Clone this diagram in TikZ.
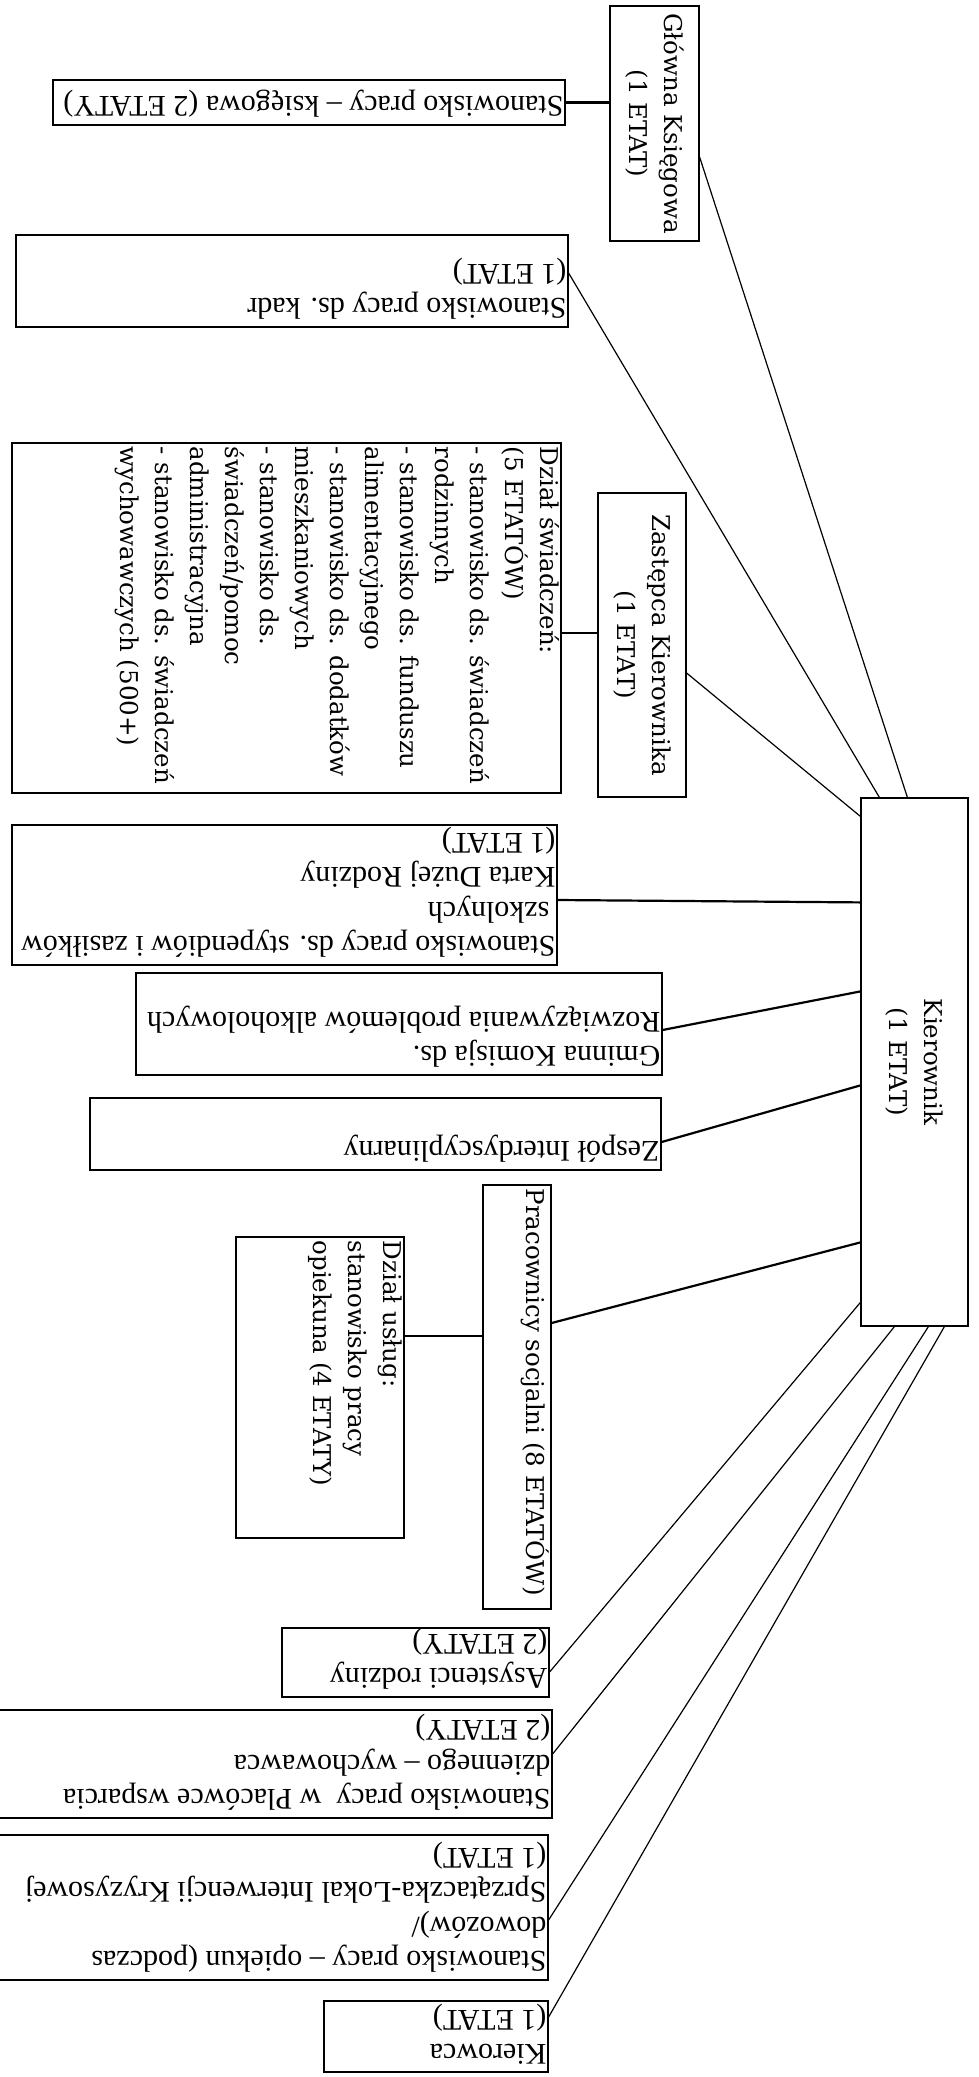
\documentclass[tikz,border=0pt]{standalone}
\usepackage{fontspec}
\setmainfont{Liberation Serif}
\newfontfamily\wideserif{DejaVu Serif}
\tikzstyle{box}=[draw, rectangle, line width=1.2pt, inner sep=0pt]
\tikzstyle{fliptext}=[rotate=180, anchor=north west, align=left, inner xsep=2pt, inner ysep=8pt, font=\fontsize{30}{34.5}\selectfont]
\tikzstyle{downtext}=[rotate=-90, align=left, inner xsep=4pt, inner ysep=2pt, font=\wideserif\fontsize{24.5}{35}\selectfont]
\tikzstyle{link}=[line width=1.2pt]
\tikzstyle{thicklink}=[line width=2.2pt]

\begin{document}
\begin{tikzpicture}[x=1pt,y=-1pt]
            \useasboundingbox (0,0) rectangle (978,2077);
            \fill[white] (0,0) rectangle (978,2077);

            % boxes
            \node[box, minimum width=89pt, minimum height=235pt] (gk) at (654.5,123.5) {};
            \node[box, minimum width=512pt, minimum height=45pt] (sk) at (309,102.5) {};
            \node[box, minimum width=552pt, minimum height=92pt] (kd) at (292,281) {};
            \node[box, minimum width=549pt, minimum height=350pt] (ds) at (286.5,618) {};
            \node[box, minimum width=88pt, minimum height=304pt] (zk) at (642,645) {};
            \node[box, minimum width=107pt, minimum height=528pt] (kr) at (914.5,1062) {};
            \node[box, minimum width=545pt, minimum height=140pt] (st) at (284.5,895) {};
            \node[box, minimum width=526pt, minimum height=102pt] (komisja) at (399,1024) {};
            \node[box, minimum width=571pt, minimum height=72pt] (zi) at (375.5,1134) {};
            \node[box, minimum width=68pt, minimum height=424pt] (ps) at (517,1397) {};
            \node[box, minimum width=168pt, minimum height=301pt] (du) at (320,1387.5) {};
            \node[box, minimum width=267pt, minimum height=69pt] (ar) at (415.5,1662.5) {};
            \node[box, minimum width=555pt, minimum height=108pt] (pw) at (274.5,1764) {};
            \node[box, minimum width=551pt, minimum height=145pt] (sp) at (272.5,1907.5) {};
            \node[box, minimum width=224pt, minimum height=71pt] (kw) at (436,2036.5) {};

            % texts
            \node[downtext, align=center] (gk-t) at (gk) {Główna Księgowa\\(1 ETAT)};
            \node[downtext, align=center] (zk-t) at (zk) {Zastępca Kierownika\\(1 ETAT)};
            \node[downtext, align=center] (kr-t) at (kr) {Kierownik\\(1 ETAT)};
            \node[downtext, anchor=north west] (ds-t) at (ds.north east) {Dział świadczeń:\\(5 ETATÓW)\\- stanowisko ds. świadczeń\\rodzinnych\\- stanowisko ds. funduszu\\alimentacyjnego\\- stanowisko ds. dodatków\\mieszkaniowych\\- stanowisko ds.\\świadczeń/pomoc\\administracyjna\\- stanowisko ds. świadczeń\\wychowawczych (500+)};
            \node[downtext, anchor=north west] (ps-t) at (ps.north east) {Pracownicy socjalni (8 ETATÓW)};
            \node[downtext, anchor=north west] (du-t) at (du.north east) {Dział usług:\\stanowisko pracy\\opiekuna (4 ETATY)};

            \node[fliptext] (sk-t) at (sk.south east) {Stanowisko pracy – księgowa (2 ETATY)};
            \node[fliptext] (kd-t) at (kd.south east) {Stanowisko pracy ds. kadr\\(1 ETAT)};
            \node[fliptext] (st-t) at (st.south east) {Stanowisko pracy ds. stypendiów i zasiłków\\\hspace*{6pt}szkolnych\\Karta Dużej Rodziny\\(1 ETAT)};
            \node[fliptext] (komisja-t) at (komisja.south east) {Gminna Komisja ds.\\Rozwiązywania problemów alkoholowych};
            \node[fliptext] (zi-t) at (zi.south east) {Zespół Interdyscyplinarny};
            \node[fliptext] (ar-t) at (ar.south east) {Asystenci rodziny\\(2 ETATY)};
            \node[fliptext] (pw-t) at (pw.south east) {Stanowisko pracy \ w Placówce wsparcia\\dziennego – wychowawca\\(2 ETATY)};
            \node[fliptext] (sp-t) at (sp.south east) {Stanowisko pracy – opiekun (podczas\\dowozów)/\\Sprzątaczka-Lokal Interwencji Kryzysowej\\(1 ETAT)};
            \node[fliptext] (kw-t) at (kw.south east) {Kierowca\\(1 ETAT)};

            % connectors
            \draw[thicklink] (sk.east) -- (sk.east -| gk.west);
            \draw[link] ([yshift=-33.5pt]gk.east) -- ([xshift=47pt]kr.north west);
            \draw[link] ([yshift=8pt]kd.east) -- ([xshift=19pt]kr.north west);
            \draw[thicklink] ([yshift=-15pt]ds.east) -- ([yshift=12pt]zk.west);
            \draw[link] ([yshift=-28pt]zk.east) -- ([yshift=-19pt]kr.north west);
            \draw[thicklink] ([yshift=-5pt]st.east) -- ([yshift=-105pt]kr.north west);
            \draw[thicklink] ([yshift=-6pt]komisja.east) -- ([yshift=-194pt]kr.north west);
            \draw[thicklink] ([yshift=-8pt]zi.east) -- ([yshift=-288pt]kr.north west);
            \draw[thicklink] ([yshift=74pt]ps.east) -- ([yshift=-445pt]kr.north west);
            \draw[thicklink] ([yshift=51.5pt]du.east) -- ([yshift=61pt]ps.west);
            \draw[link] ([yshift=-505pt]kr.north west) -- ([yshift=-9.5pt]ar.east);
            \draw[link] ([xshift=34pt]kr.south west) -- ([yshift=10pt]pw.east);
            \draw[link] ([xshift=68pt]kr.south west) -- ([yshift=-12.5pt]sp.east);
            \draw[link] ([xshift=84pt]kr.south west) -- ([yshift=19.5pt]kw.east);
\end{tikzpicture}
\end{document}
